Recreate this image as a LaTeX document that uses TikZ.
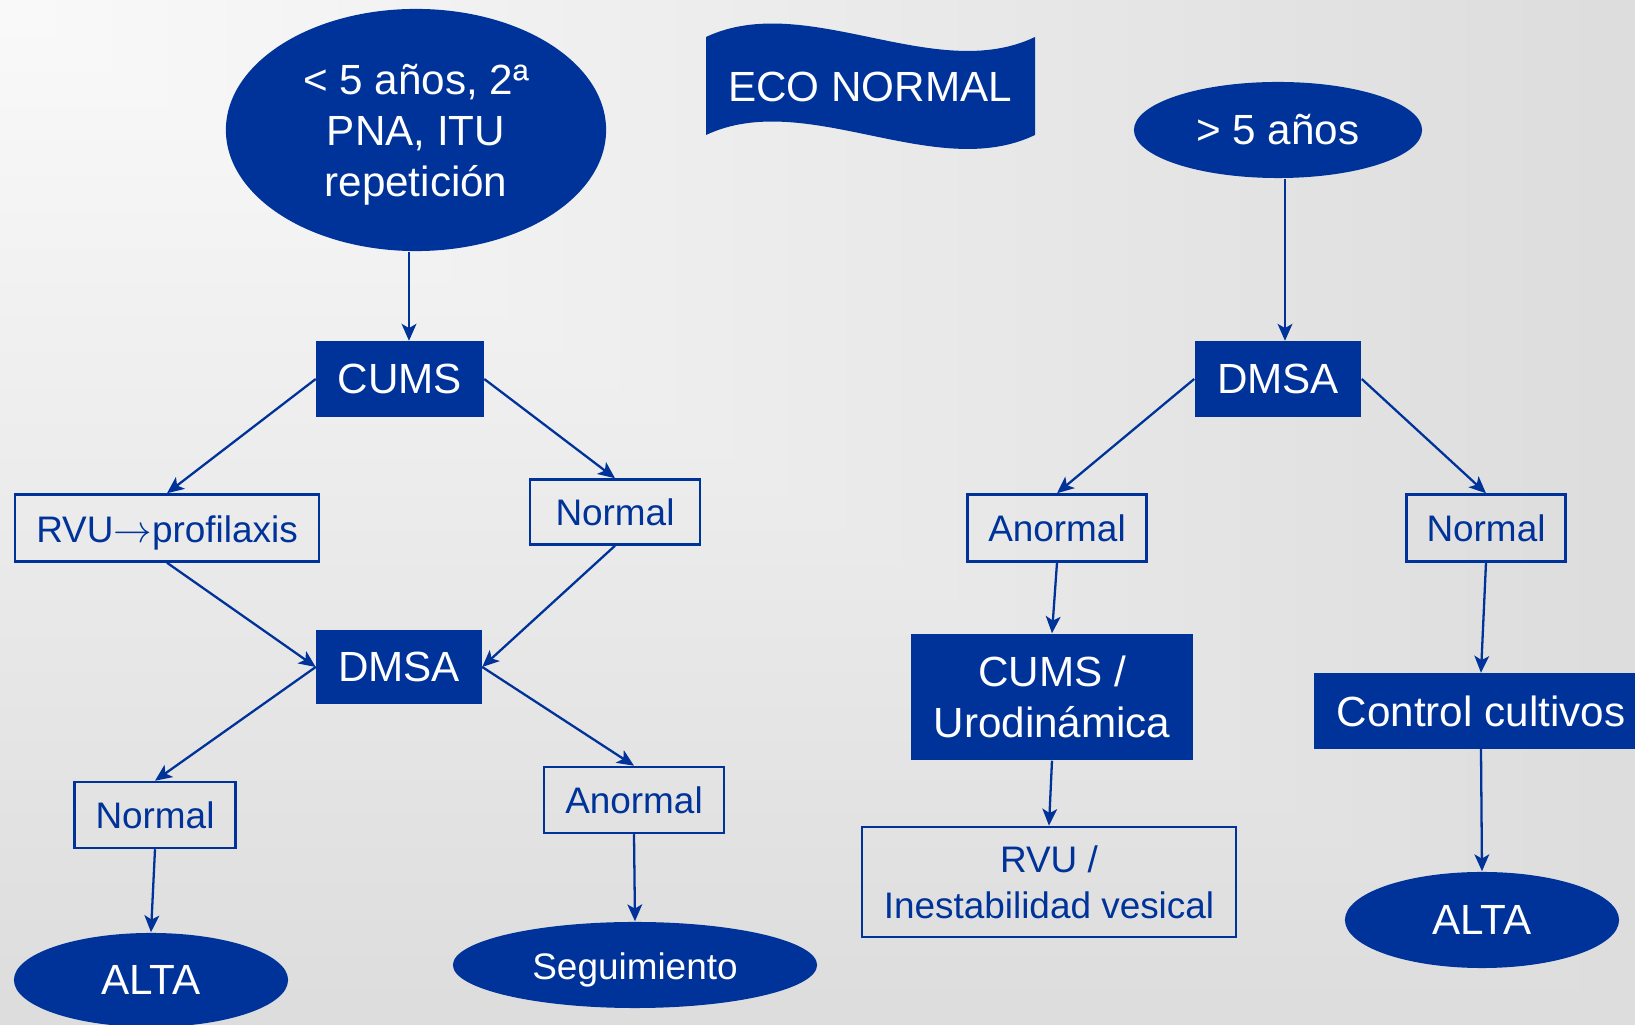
\documentclass[tikz,border=0pt]{standalone}
\usepackage{fontspec}
\setmainfont{Liberation Sans}
\usepackage{tikz}
\usepackage{xcolor}
\usetikzlibrary{positioning}
\usetikzlibrary{shapes.geometric}
\usetikzlibrary{arrows.meta}
\definecolor{eblue}{HTML}{003399}
\tikzset{
  % A filled blue step (white text)
  stepbox/.style={
    draw=none, fill=eblue, text=white, rectangle, align=center,
    font=\fontsize{12}{14.5}\selectfont, inner sep=0pt,
    minimum width=#1},
  % A result box: blue outline, blue text
  resbox/.style={
    draw=eblue, line width=0.7pt, rectangle, align=center, text=eblue,
    font=\fontsize{10.5}{13}\selectfont, inner sep=0pt,
    minimum width=#1, minimum height=0.66cm},
  % Start and end points
  oval/.style={
    ellipse, fill=eblue, text=white, align=center, inner sep=0pt,
    font=\fontsize{12}{14.5}\selectfont, minimum width=#1},
  % Arrows
  link/.style={-{Stealth[length=4.8pt,width=4.2pt,inset=1.2pt]}, draw=eblue, line width=0.65pt},
}
% text set a little lower than the node centre
\newcommand{\lowtext}[2]{\raisebox{-#1}[\height][\depth]{#2}}

\begin{document}
\begin{tikzpicture}[x=0.01cm, y=-0.01cm]

  \useasboundingbox (0,0) rectangle (1635,1025);

  % background, lighter in the top left corner
  \foreach \i in {0,...,28}{
    \pgfmathtruncatemacro{\g}{221+\i}
    \definecolor{bgtone}{RGB}{\g,\g,\g}
    \fill[bgtone] (0,0) rectangle ({1635*(1-\i/29)},{1025*(1-\i/29)});
  }

  % banner
  \fill[eblue] (706,37) .. controls (806,-10) and (935,85) .. (1035,37)
    -- (1035,135) .. controls (935,183) and (806,88) .. (706,135) -- cycle;
  \node[text=white, font=\fontsize{12}{14.5}\selectfont] (eco) at (870,87) {ECO NORMAL};

  % left branch
  \node[oval=3.8cm, minimum height=2.42cm] (menor) at (416,130)
    {\lowtext{0.05cm}{\begin{tabular}{@{}c@{}}< 5 años, 2ª\\PNA, ITU\\repetición\end{tabular}}};
  \node[stepbox=1.67cm, minimum height=0.75cm] (cums) at (400,379) {CUMS};
  \node[resbox=3.04cm, minimum height=0.67cm] (rvu) at (167,528) {\lowtext{0.05cm}{RVU$\rightarrow$profilaxis}};
  \node[resbox=1.70cm, minimum height=0.65cm] (normA) at (615,512) {Normal};
  \node[stepbox=1.65cm, minimum height=0.74cm] (dmsaA) at (399,667) {DMSA};
  \node[resbox=1.61cm] (normB) at (155,815) {Normal};
  \node[resbox=1.80cm] (anorA) at (634,800) {Anormal};
  \node[oval=2.74cm, minimum height=0.94cm] (altaA) at (151,980) {ALTA};
  \node[oval=3.64cm, minimum height=0.86cm, font=\fontsize{10.5}{13}\selectfont] (segui) at (635,965) {\lowtext{0.05cm}{Seguimiento}};

  % right branch
  \node[oval=2.88cm, minimum height=0.96cm] (mayor) at (1278,130) {> 5 años};
  \node[stepbox=1.66cm, minimum height=0.75cm] (dmsaB) at (1278,379) {DMSA};
  \node[resbox=1.79cm, minimum height=0.67cm] (anorB) at (1057,528) {Anormal};
  \node[resbox=1.59cm, minimum height=0.67cm] (normC) at (1486,528) {Normal};
  \node[stepbox=2.81cm, minimum height=1.26cm] (uro) at (1052,697) {CUMS /\\Urodinámica};
  \node[resbox=3.74cm, minimum height=1.10cm] (inest) at (1049,882) {RVU /\\Inestabilidad vesical};
  \node[stepbox=3.33cm, minimum height=0.75cm] (cultivo) at (1481,711) {Control cultivos};
  \node[oval=2.74cm, minimum height=0.96cm] (altaB) at (1482,920) {ALTA};

  \draw[link] ([xshift=0.09cm]menor.south -| cums.north) -- ([xshift=0.09cm]cums.north);
  \draw[link] (cums.west) -- (rvu.north);
  \draw[link] (cums.east) -- (normA.north);
  \draw[link] (rvu.south) -- (dmsaA.west);
  \draw[link] (normA.south) -- (dmsaA.east);
  \draw[link] (dmsaA.west) -- (normB.north);
  \draw[link] (dmsaA.east) -- (anorA.north);
  \draw[link] (normB.south) -- (altaA.north);
  \draw[link] (anorA.south) -- (segui.north);

  \draw[link] ([xshift=0.07cm]mayor.south) -- ([xshift=0.07cm]dmsaB.north);
  \draw[link] (dmsaB.west) -- (anorB.north);
  \draw[link] (dmsaB.east) -- (normC.north);
  \draw[link] (anorB.south) -- (uro.north);
  \draw[link] (uro.south) -- (inest.north);
  \draw[link] (normC.south) -- (cultivo.north);
  \draw[link] (cultivo.south) -- (altaB.north);

\end{tikzpicture}
\end{document}
